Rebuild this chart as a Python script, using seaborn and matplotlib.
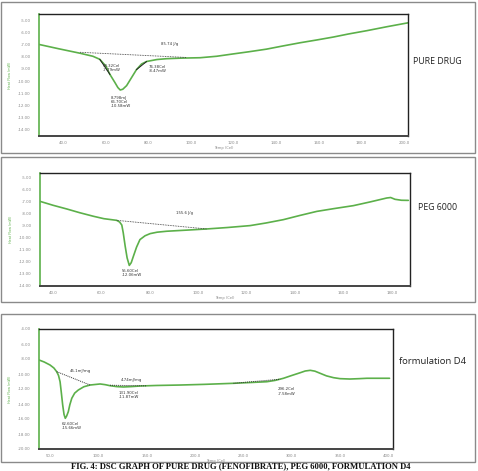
import matplotlib
matplotlib.use("Agg")
import matplotlib.pyplot as plt
import seaborn as sns
import pandas as pd
from matplotlib.patches import Rectangle

# ---------------- data ----------------
# Panel 1: pure drug
drug_temp = [28.7, 38.0, 48.0, 54.0, 57.2, 60.0, 62.0, 64.3, 65.7, 66.8, 68.0, 69.8, 72.1, 74.4, 76.8, 79.2,
             84.0, 88.5, 96.0, 104.3, 112.0, 119.6, 127.0, 135.4, 143.0, 151.2, 159.0, 166.7, 174.0, 182.5, 192.0, 201.8]
drug_flow = [-6.97, -7.33, -7.70, -7.95, -8.20, -8.75, -9.46, -10.12, -10.54, -10.74, -10.68, -10.38, -9.72, -9.06, -8.59, -8.38,
             -8.22, -8.15, -8.10, -8.07, -7.95, -7.76, -7.58, -7.36, -7.10, -6.83, -6.60, -6.36, -6.10, -5.83, -5.50, -5.18]
drug_base_t = [48.0, 98.0]
drug_base_f = [-7.62, -8.05]
drug_yticks = [-14, -13, -12, -11, -10, -9, -8, -7, -6, -5]
drug_xticks = [40, 60, 80, 100, 120, 140, 160, 180, 200]

# Panel 2: PEG 6000
peg_temp = [34.6, 40.0, 45.7, 51.0, 56.7, 61.0, 66.3, 67.5, 68.4, 69.0, 69.8, 70.6, 71.5, 72.3, 73.2, 74.5, 75.9,
            78.0, 80.1, 83.0, 87.0, 95.0, 103.5, 112.0, 121.4, 128.0, 135.2, 142.0, 149.0, 156.0, 164.1, 171.0,
            177.9, 179.5, 181.3, 184.0, 186.8]
peg_flow = [-6.97, -7.30, -7.61, -7.92, -8.22, -8.42, -8.56, -8.70, -8.95, -9.60, -10.72, -11.70, -12.33, -12.10, -11.56, -10.80, -10.17,
            -9.85, -9.67, -9.55, -9.47, -9.38, -9.28, -9.16, -9.00, -8.78, -8.50, -8.15, -7.81, -7.58, -7.33, -7.02,
            -6.69, -6.65, -6.80, -6.88, -6.89]
peg_base_t = [66.3, 103.5]
peg_base_f = [-8.56, -9.28]
peg_yticks = [-14, -13, -12, -11, -10, -9, -8, -7, -6, -5]
peg_xticks = [40, 60, 80, 100, 120, 140, 160, 180]

# Panel 3: formulation D4
d4_temp = [38.6, 44.0, 50.0, 54.0, 56.9, 58.8, 60.4, 61.8, 63.1, 64.5, 65.8, 67.2, 68.9, 70.5, 72.5, 75.5, 79.3,
           85.0, 91.4, 101.8, 107.0, 112.1, 119.0, 125.9, 134.0, 143.2, 160.0, 184.6, 210.0, 239.8, 260.0, 274.3,
           283.0, 291.5, 300.0, 308.8, 314.0, 319.2, 324.0, 329.5, 336.0, 343.3, 350.0, 360.2, 370.0, 377.8, 390.0, 401.2]
d4_flow = [-8.13, -8.40, -8.80, -9.20, -9.69, -10.20, -11.03, -12.60, -14.13, -15.40, -15.91, -15.60, -15.03, -14.10, -13.24, -12.55, -12.13,
           -11.70, -11.47, -11.33, -11.42, -11.56, -11.68, -11.73, -11.68, -11.60, -11.53, -11.47, -11.38, -11.24, -11.12, -11.03,
           -10.85, -10.57, -10.20, -9.83, -9.60, -9.51, -9.62, -9.91, -10.25, -10.49, -10.62, -10.67, -10.62, -10.57, -10.57, -10.57]
d4_base1_t = [56.9, 91.4]
d4_base1_f = [-9.69, -11.47]
d4_base2_t = [112.1, 150.0]
d4_base2_f = [-11.50, -11.58]
d4_base3_t = [239.8, 288.0]
d4_base3_f = [-11.24, -10.70]
d4_yticks = [-20, -18, -16, -14, -12, -10, -8, -6, -4]
d4_xticks = [50, 100, 150, 200, 250, 300, 350, 400]

labels = ["PURE DRUG", "PEG 6000", "formulation D4"]
caption = "FIG. 4: DSC GRAPH OF PURE DRUG (FENOFIBRATE), PEG 6000, FORMULATION D4"

# ---------------- figure ----------------
sns.set_style("white")
plt.rcParams['font.family'] = ['DejaVu Sans']

W, H = 478, 471
fig = plt.figure(figsize=(W / 100, H / 100), dpi=100)
fig.patch.set_facecolor("white")

GREEN = "#5cb04a"


def px_rect(x0, y0, x1, y1):
    return [x0 / W, 1 - y1 / H, (x1 - x0) / W, (y1 - y0) / H]


# panel borders
for (y0, y1) in [(2, 153), (157, 302), (314, 462)]:
    fig.patches.append(Rectangle((1 / W, 1 - y1 / H), 474 / W, (y1 - y0) / H,
                                 transform=fig.transFigure, fill=False,
                                 edgecolor="#8a8a8a", lw=1.0))


def style_axes(ax, xlim, ylim, xticks, yticks):
    ax.set_xlim(*xlim)
    ax.set_ylim(*ylim)
    ax.set_xticks(xticks)
    ax.set_yticks(yticks)
    ax.set_xticklabels([f"{v:.1f}" for v in xticks], fontsize=2.8, color="#888888")
    ax.set_yticklabels([f"{v:.2f}" for v in yticks], fontsize=2.8, color="#888888")
    ax.tick_params(axis="y", direction="in", length=4, width=0.8, color=GREEN, pad=6)
    ax.tick_params(axis="x", direction="out", length=1.5, width=0.5, color="#666666", pad=2)
    for s in ["top", "right"]:
        ax.spines[s].set_color("#222222")
        ax.spines[s].set_linewidth(1.0)
    ax.spines["bottom"].set_color("#444444")
    ax.spines["bottom"].set_linewidth(1.4)
    ax.spines["left"].set_color(GREEN)
    ax.spines["left"].set_linewidth(1.2)
    ax.set_xlabel("Temp (Cel)", fontsize=2.6, color="#888888", labelpad=1)
    ax.set_ylabel("Heat Flow (mW)", fontsize=2.4, color=GREEN, labelpad=4)
    ax.grid(False)


def ann(ax, x, y, s):
    ax.text(x, y, s, fontsize=2.8, color="#333333", ha="left", va="top", linespacing=1.1)


# ---- Panel 1
ax1 = fig.add_axes(px_rect(39, 14, 408, 136))
df1 = pd.DataFrame({"Temp": drug_temp, "Flow": drug_flow})
sns.lineplot(data=df1, x="Temp", y="Flow", ax=ax1, color=GREEN, lw=1.2, sort=False)
ax1.plot(drug_base_t, drug_base_f, ls=(0, (1, 1)), color="#333333", lw=0.6)
ax1.plot([57.2, 62.0], [-8.20, -9.46], color="#222222", lw=0.7)
ax1.plot([74.4, 79.2], [-9.06, -8.38], color="#222222", lw=0.7)
style_axes(ax1, (28.7, 201.8), (-14.55, -4.45), drug_xticks, drug_yticks)
ann(ax1, 86, -6.75, "85.74 J/g")
ann(ax1, 58.5, -8.55, "58.32Cel\n-7.79mW")
ann(ax1, 80, -8.65, "76.38Cel\n-8.47mW")
ann(ax1, 62.5, -11.2, "8.798mJ\n66.70Cel\n-10.58mW")

# ---- Panel 2
ax2 = fig.add_axes(px_rect(40, 173, 410, 286))
df2 = pd.DataFrame({"Temp": peg_temp, "Flow": peg_flow})
sns.lineplot(data=df2, x="Temp", y="Flow", ax=ax2, color=GREEN, lw=1.2, sort=False)
ax2.plot(peg_base_t, peg_base_f, ls=(0, (1, 1)), color="#333333", lw=0.6)
style_axes(ax2, (34.6, 187.5), (-14.05, -4.6), peg_xticks, peg_yticks)
ann(ax2, 91, -7.75, "155.6 J/g")
ann(ax2, 68.5, -12.6, "55.60Cel\n-12.06mW")

# ---- Panel 3
ax3 = fig.add_axes(px_rect(39, 329, 393, 449))
df3 = pd.DataFrame({"Temp": d4_temp, "Flow": d4_flow})
sns.lineplot(data=df3, x="Temp", y="Flow", ax=ax3, color=GREEN, lw=1.2, sort=False)
for bt, bf in [(d4_base1_t, d4_base1_f), (d4_base2_t, d4_base2_f), (d4_base3_t, d4_base3_f)]:
    ax3.plot(bt, bf, ls=(0, (1, 1)), color="#333333", lw=0.7)
style_axes(ax3, (38.6, 404.8), (-20, -4), d4_xticks, d4_yticks)
ann(ax3, 70, -9.3, "45.1mJ/mg")
ann(ax3, 123, -10.6, "4.74mJ/mg")
ann(ax3, 121, -12.2, "131.90Cel\n-11.87mW")
ann(ax3, 62, -16.4, "62.60Cel\n-15.66mW")
ann(ax3, 286, -11.8, "296.2Cel\n-7.58mW")

# side labels
fig.text(413 / W, 1 - 61 / H, labels[0], fontsize=6.3, family="Open Sans", ha="left", va="center", color="#222222")
fig.text(418 / W, 1 - 207 / H, labels[1], fontsize=6.3, family="Open Sans", ha="left", va="center", color="#222222")
fig.text(399 / W, 1 - 362 / H, labels[2], fontsize=6.8, family="Open Sans", ha="left", va="center", color="#222222")

# caption
fig.text(241 / W, 1 - 470.3 / H, caption, fontsize=6.2, family="Liberation Serif",
         weight="bold", ha="center", va="bottom", color="#111111")

fig.savefig("out.png", dpi=100, facecolor="white")
